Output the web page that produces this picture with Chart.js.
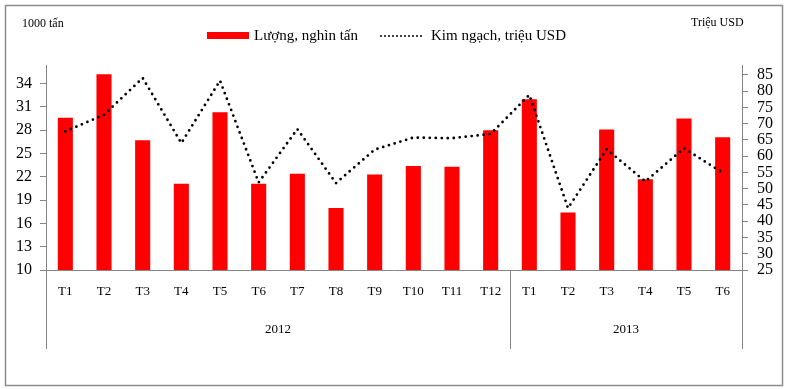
<!DOCTYPE html>
<html>
<head>
<meta charset="utf-8">
<script src="https://cdn.jsdelivr.net/npm/chart.js@4"></script>
<style>
  body { margin: 0; background: #fff; }
  canvas { display: block; }
</style>
</head>
<body>
<canvas id="chart" width="788" height="389"></canvas>
<script>
// categories
const months = ['T1', 'T2', 'T3', 'T4', 'T5', 'T6', 'T7', 'T8', 'T9', 'T10', 'T11', 'T12',
    'T1', 'T2', 'T3', 'T4', 'T5', 'T6'];
const years = ['2012', '2013'];
const monthsPerYear = [12, 6];

// series
const volume = [29.6, 35.2, 26.7, 21.1, 30.3, 21.1, 22.4, 18.0, 22.3, 23.4, 23.3, 28.0,
    32.0, 17.4, 28.1, 21.7, 29.5, 27.1];
const turnover = [67.6, 72.7, 84.0, 64.0, 83.2, 51.9, 68.3, 51.7, 62.0, 65.7, 65.5, 66.8,
    78.8, 44.0, 62.1, 52.2, 62.4, 54.9];

// tick labels
const leftTicks = [10, 13, 16, 19, 22, 25, 28, 31, 34];
const rightTicks = [25, 30, 35, 40, 45, 50, 55, 60, 65, 70, 75, 80, 85];

const volumeLabel = 'Lượng, nghìn tấn';
const turnoverLabel = 'Kim ngạch, triệu USD';
const leftTitle = '1000 tấn';
const rightTitle = 'Triệu USD';

const serif = 'Liberation Serif, Times New Roman, serif';
const axisGray = '#868686';

const extras = {
    id: 'extras',
    afterDraw(chart) {
        const c = chart.ctx;
        const x = chart.scales.x;
        const area = chart.chartArea;
        const step = x.getPixelForValue(1) - x.getPixelForValue(0);
        c.save();

        // outer frame
        c.strokeStyle = '#8c8c8c';
        c.lineWidth = 1.5;
        c.strokeRect(5.5, 5.5, 777, 380);

        // separators below the axis + year labels
        c.strokeStyle = axisGray;
        c.lineWidth = 1;
        let start = 0;
        const bounds = [0];
        monthsPerYear.forEach(n => { start += n; bounds.push(start); });
        bounds.forEach(b => {
            const px = Math.round(x.getPixelForValue(b) - step / 2) + 0.5;
            c.beginPath();
            c.moveTo(px, area.bottom);
            c.lineTo(px, 349);
            c.stroke();
        });
        c.fillStyle = '#000';
        c.font = '13px ' + serif;
        c.textAlign = 'center';
        c.textBaseline = 'middle';
        years.forEach((y, i) => {
            const mid = (x.getPixelForValue(bounds[i]) + x.getPixelForValue(bounds[i + 1] - 1)) / 2;
            c.fillText(y, mid, 330);
        });

        // axis titles
        c.font = '12px ' + serif;
        c.textAlign = 'left';
        c.fillText(leftTitle, 22, 24);
        c.fillText(rightTitle, 691, 23);

        // legend
        c.fillStyle = '#ff0000';
        c.fillRect(207, 32, 42, 7);
        c.fillStyle = '#000';
        c.font = '15px ' + serif;
        c.fillText(volumeLabel, 254, 36);
        c.strokeStyle = '#000';
        c.lineWidth = 2;
        c.lineCap = 'round';
        c.setLineDash([0, 4]);
        c.beginPath();
        c.moveTo(381, 36);
        c.lineTo(425, 36);
        c.stroke();
        c.setLineDash([]);
        c.fillText(turnoverLabel, 431, 36);
        c.restore();
    }
};

const ctx = document.getElementById('chart').getContext('2d');
const chart = new Chart(ctx, {
    type: 'bar',
    data: {
        labels: months,
        datasets: [
            {
                type: 'line',
                label: turnoverLabel,
                data: turnover,
                yAxisID: 'y1',
                borderColor: '#000',
                borderWidth: 2.8,
                borderDash: [0, 6],
                borderCapStyle: 'round',
                pointRadius: 0,
                tension: 0,
                fill: false,
                order: 0
            },
            {
                label: volumeLabel,
                data: volume,
                yAxisID: 'y',
                backgroundColor: '#ff0000',
                barPercentage: 0.39,
                categoryPercentage: 1,
                order: 1
            }
        ]
    },
    options: {
        responsive: false,
        animation: false,
        layout: { padding: { top: 65, left: 0, right: 0, bottom: 0 } },
        plugins: {
            legend: { display: false },
            tooltip: { enabled: false }
        },
        scales: {
            x: {
                grid: { display: false, drawTicks: false },
                border: { display: true, color: axisGray },
                ticks: {
                    color: '#000',
                    font: { family: serif, size: 13 },
                    padding: 14,
                    maxRotation: 0,
                    autoSkip: false
                },
                afterFit(scale) { scale.height = 119; }
            },
            y: {
                position: 'left',
                min: 10,
                max: 36.4,
                afterBuildTicks(scale) { scale.ticks = leftTicks.map(v => ({ value: v })); },
                grid: { drawOnChartArea: false, drawTicks: true, tickLength: 6, color: axisGray },
                border: { display: true, color: axisGray },
                ticks: {
                    color: '#000',
                    font: { family: serif, size: 16 },
                    padding: 8,
                    autoSkip: false
                },
                afterFit(scale) { scale.width = 46; }
            },
            y1: {
                position: 'right',
                min: 25,
                max: 88,
                afterBuildTicks(scale) { scale.ticks = rightTicks.map(v => ({ value: v })); },
                grid: { drawOnChartArea: false, drawTicks: true, tickLength: 6, color: axisGray },
                border: { display: true, color: axisGray },
                ticks: {
                    color: '#000',
                    font: { family: serif, size: 16 },
                    padding: 9,
                    autoSkip: false
                },
                afterFit(scale) { scale.width = 46; }
            }
        }
    },
    plugins: [extras]
});
</script>
</body>
</html>
